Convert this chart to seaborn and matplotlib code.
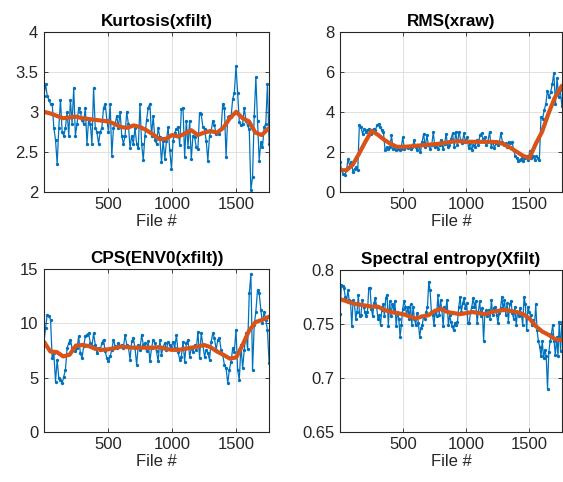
import numpy as np
import pandas as pd
import matplotlib
matplotlib.use("Agg")
import matplotlib.pyplot as plt
import seaborn as sns

sns.set_theme(style="ticks")
plt.rcParams['font.family'] = ['Liberation Sans', 'DejaVu Sans']

# --- data (values per file, in file order) ---
kurtosis_vals = [
    3.2, 3.35, 3.2, 3.15, 3.1, 3.1, 2.8, 2.65, 2.35, 2.8,
    3.15, 2.75, 2.7, 2.8, 3.0, 2.7, 3.15, 2.85, 3.3, 2.7,
    2.85, 3.05, 3.0, 2.9, 2.85, 3.05, 2.6, 2.9, 2.85, 2.6,
    3.3, 2.8, 2.75, 2.6, 2.75, 2.8, 3.05, 3.1, 2.9, 2.75,
    3.1, 2.45, 2.8, 2.85, 2.95, 2.8, 3.0, 2.7, 2.6, 2.7,
    3.0, 2.85, 2.55, 2.7, 2.6, 2.8, 2.6, 2.55, 3.1, 2.6,
    2.4, 2.7, 2.9, 3.05, 3.1, 2.7, 2.95, 2.65, 2.6, 2.8,
    2.68, 2.37, 2.64, 2.41, 2.64, 2.81, 2.52, 2.29, 2.64, 2.74,
    2.78, 2.81, 2.58, 3.03, 3.05, 2.43, 2.89, 2.56, 2.89, 2.41,
    2.7, 2.68, 2.56, 2.54, 2.99, 2.97, 2.81, 2.78, 2.64, 2.39,
    2.7, 2.76, 2.89, 2.83, 2.72, 2.76, 2.72, 2.78, 3.1, 3.05,
    2.43, 2.93, 2.95, 2.93, 3.16, 3.24, 3.57, 3.24, 2.87, 2.83,
    2.85, 3.05, 2.89, 2.83, 2.78, 2.02, 2.19, 2.95, 3.43, 2.89,
    2.39, 2.62, 2.56, 2.81, 2.85, 3.35, 2.6,
]
rms_vals = [
    1.5, 1.07, 0.9, 0.82, 1.07, 1.65, 1.3, 1.5, 1.0, 1.15,
    1.23, 1.07, 3.32, 3.23, 2.9, 3.15, 2.98, 3.07, 3.15, 2.9,
    3.07, 3.15, 3.1, 3.32, 3.4, 3.23, 3.07, 2.98, 2.07, 2.23,
    2.15, 2.23, 2.82, 2.15, 2.23, 2.07, 2.15, 2.1, 2.15, 2.73,
    2.15, 2.23, 2.2, 2.27, 2.15, 2.23, 2.57, 2.23, 2.07, 2.32,
    1.98, 2.48, 2.9, 2.23, 2.82, 2.32, 2.15, 2.32, 2.98, 2.23,
    2.32, 2.15, 2.32, 2.57, 2.15, 2.4, 2.9, 2.23, 2.32, 2.65,
    2.92, 2.26, 3.0, 2.34, 3.0, 2.59, 2.43, 2.92, 2.51, 2.75,
    2.18, 2.43, 2.1, 2.34, 2.26, 2.59, 2.34, 2.84, 2.92, 2.59,
    2.75, 2.34, 2.51, 3.0, 2.26, 2.51, 2.18, 2.43, 2.34, 2.43,
    2.92, 2.51, 2.34, 2.43, 2.26, 2.51, 2.43, 2.51, 2.1, 1.77,
    1.69, 1.52, 1.61, 1.69, 1.52, 1.69, 1.77, 1.61, 2.02, 1.69,
    1.77, 1.61, 1.77, 1.69, 1.61, 3.74, 3.66, 4.07, 4.39, 5.05,
    4.72, 4.97, 5.38, 5.95, 4.39, 5.7, 4.72, 5.1, 4.3,
]
cps_vals = [
    8.24, 9.57, 10.8, 10.65, 10.34, 6.79, 7.25, 4.63, 6.64, 4.94,
    4.78, 4.48, 5.09, 5.71, 7.72, 8.18, 8.49, 7.72, 7.56, 7.41,
    7.72, 8.8, 7.25, 6.79, 7.87, 8.8, 8.95, 9.1, 8.18, 7.87,
    9.1, 8.02, 7.25, 7.72, 7.56, 8.18, 8.49, 7.41, 6.79, 6.48,
    6.94, 7.56, 8.49, 7.87, 7.72, 8.18, 7.87, 8.02, 7.72, 8.95,
    8.02, 7.87, 6.64, 8.33, 8.64, 7.72, 6.17, 8.02, 7.56, 8.95,
    8.02, 8.18, 7.41, 8.33, 6.48, 7.72, 8.49, 8.18, 7.41, 6.48,
    8.47, 7.09, 7.85, 8.16, 7.55, 8.31, 8.0, 7.85, 8.31, 7.7,
    8.93, 7.39, 6.63, 6.93, 8.31, 6.47, 8.16, 8.47, 6.93, 7.7,
    7.39, 8.0, 7.55, 9.23, 6.78, 9.08, 8.0, 6.93, 7.55, 7.24,
    6.63, 8.31, 9.08, 8.62, 7.55, 8.47, 8.62, 7.55, 7.09, 6.17,
    5.86, 4.48, 5.71, 6.47, 7.7, 7.39, 9.39, 5.71, 4.79, 8.0,
    5.86, 7.55, 9.08, 7.6, 12.76, 14.5, 5.71, 9.85, 11.07, 13.07,
    12.76, 11.23, 10.0, 11.07, 10.31, 9.39, 6.32,
]
entropy_vals = [
    0.759, 0.786, 0.785, 0.783, 0.775, 0.771, 0.781, 0.772, 0.771, 0.748,
    0.772, 0.769, 0.755, 0.761, 0.777, 0.757, 0.758, 0.772, 0.766, 0.761,
    0.757, 0.761, 0.783, 0.783, 0.764, 0.757, 0.769, 0.774, 0.766, 0.755,
    0.758, 0.749, 0.763, 0.768, 0.757, 0.774, 0.777, 0.748, 0.771, 0.757,
    0.768, 0.764, 0.771, 0.748, 0.761, 0.755, 0.738, 0.749, 0.764, 0.771,
    0.766, 0.758, 0.766, 0.755, 0.768, 0.749, 0.766, 0.755, 0.749, 0.76,
    0.751, 0.738, 0.746, 0.749, 0.757, 0.755, 0.761, 0.766, 0.789, 0.781,
    0.761, 0.758, 0.749, 0.763, 0.757, 0.777, 0.758, 0.772, 0.763, 0.748,
    0.766, 0.764, 0.772, 0.749, 0.758,
    0.752, 0.748, 0.744, 0.751, 0.749, 0.752, 0.766, 0.775, 0.761, 0.769,
    0.774, 0.765, 0.769, 0.751, 0.751, 0.761, 0.766, 0.774, 0.766, 0.771,
    0.751, 0.761, 0.771, 0.757, 0.765, 0.734, 0.76, 0.763, 0.757, 0.763,
    0.755, 0.772, 0.758, 0.765, 0.766, 0.758, 0.751, 0.76, 0.765, 0.775,
    0.763, 0.772, 0.758, 0.769, 0.752, 0.768, 0.771, 0.76, 0.755, 0.766,
    0.749, 0.761, 0.757, 0.765, 0.758, 0.749, 0.775, 0.768, 0.744, 0.766,
    0.761, 0.758, 0.749, 0.754, 0.749, 0.768, 0.744, 0.734, 0.729, 0.72,
    0.734, 0.718, 0.726, 0.72, 0.69, 0.724, 0.734, 0.741, 0.749, 0.734,
    0.721, 0.738, 0.72, 0.752, 0.725, 0.752,
]

# smoothed trend, sampled every 50 files
smooth_files = list(range(0, 1701, 50)) + [1757]
kurtosis_smooth = [3.0, 2.98, 2.95, 2.92, 2.93, 2.94, 2.92, 2.91, 2.9, 2.89,
                   2.88, 2.85, 2.81, 2.8, 2.83, 2.81, 2.77, 2.72, 2.66, 2.66,
                   2.71, 2.69, 2.73, 2.77, 2.71, 2.74, 2.76, 2.74, 2.8, 2.92,
                   3.0, 2.92, 2.88, 2.74, 2.71, 2.8]
rms_smooth = [1.08, 1.08, 1.35, 1.9, 2.5, 3.05, 2.85, 2.6, 2.4, 2.25,
              2.25, 2.27, 2.3, 2.33, 2.36, 2.38, 2.42, 2.47, 2.52, 2.53,
              2.51, 2.5, 2.5, 2.5, 2.5, 2.48, 2.38, 2.2, 2.0, 1.8,
              1.68, 2.4, 3.0, 3.9, 4.7, 5.3]
cps_smooth = [8.3, 7.4, 7.35, 6.95, 7.1, 7.95, 8.0, 7.9, 7.65, 7.55,
              7.6, 7.7, 7.85, 7.8, 7.75, 7.75, 7.75, 7.75, 7.8, 7.65,
              7.55, 7.55, 7.65, 7.75, 7.85, 8.0, 7.8, 7.4, 7.1, 6.75,
              6.85, 8.0, 9.3, 10.1, 10.3, 10.6]
entropy_smooth = [0.773, 0.771, 0.769, 0.768, 0.767, 0.766, 0.766, 0.763, 0.761, 0.76,
                  0.759, 0.757, 0.755, 0.757, 0.758, 0.762, 0.764, 0.761, 0.76, 0.759,
                  0.76, 0.761, 0.76, 0.759, 0.761, 0.762, 0.763, 0.762, 0.761, 0.759,
                  0.755, 0.748, 0.743, 0.74, 0.736, 0.735]

titles = ['Kurtosis(xfilt)', 'RMS(xraw)', 'CPS(ENV0(xfilt))', 'Spectral entropy(Xfilt)']
ytick_sets = [[2, 2.5, 3, 3.5, 4], [0, 2, 4, 6, 8], [0, 5, 10, 15], [0.65, 0.7, 0.75, 0.8]]
ytick_labels = [['2', '2.5', '3', '3.5', '4'], ['0', '2', '4', '6', '8'],
                ['0', '5', '10', '15'], ['0.65', '0.7', '0.75', '0.8']]
xticks = [500, 1000, 1500]
last_file = 1757

raw_series = [kurtosis_vals, rms_vals, cps_vals, entropy_vals]
smooth_series = [kurtosis_smooth, rms_smooth, cps_smooth, entropy_smooth]

BLUE = '#0072BD'
ORANGE = '#D95319'
DARK = '#262626'

fig = plt.figure(figsize=(5.63, 4.82), dpi=100)
# axes boxes in figure fractions (left, bottom, width, height)
boxes = [(0.078, 0.602, 0.400, 0.332), (0.604, 0.602, 0.394, 0.332),
         (0.078, 0.104, 0.400, 0.338), (0.604, 0.104, 0.394, 0.336)]

for i in range(4):
    ax = fig.add_axes(boxes[i])
    vals = raw_series[i]
    df = pd.DataFrame({'file': np.linspace(0, last_file, len(vals)), 'value': vals})
    sm = pd.DataFrame({'file': smooth_files, 'value': smooth_series[i]})

    sns.lineplot(data=df, x='file', y='value', ax=ax, color=BLUE, linewidth=0.9,
                 marker='o', markersize=2.4, markeredgewidth=0, sort=False)
    sns.lineplot(data=sm, x='file', y='value', ax=ax, color=ORANGE, linewidth=3.0, sort=False)

    yt = ytick_sets[i]
    ax.set_xlim(0, last_file)
    ax.set_ylim(yt[0], yt[-1])
    ax.set_xticks(xticks)
    ax.set_yticks(yt)
    ax.set_yticklabels(ytick_labels[i])
    ax.grid(True, color='#dcdcdc', linewidth=0.6)
    ax.set_axisbelow(True)
    ax.tick_params(direction='in', top=True, right=True, length=3, width=0.6,
                   labelsize=12, colors=DARK, pad=4)
    for s in ax.spines.values():
        s.set_color(DARK)
        s.set_linewidth(0.8)
    ax.set_title(titles[i], fontsize=12.3, fontweight='bold', color='black', pad=4)
    ax.set_xlabel('File #', fontsize=12, color=DARK, labelpad=1)
    ax.set_ylabel('')

fig.savefig('out.png', dpi=100)
